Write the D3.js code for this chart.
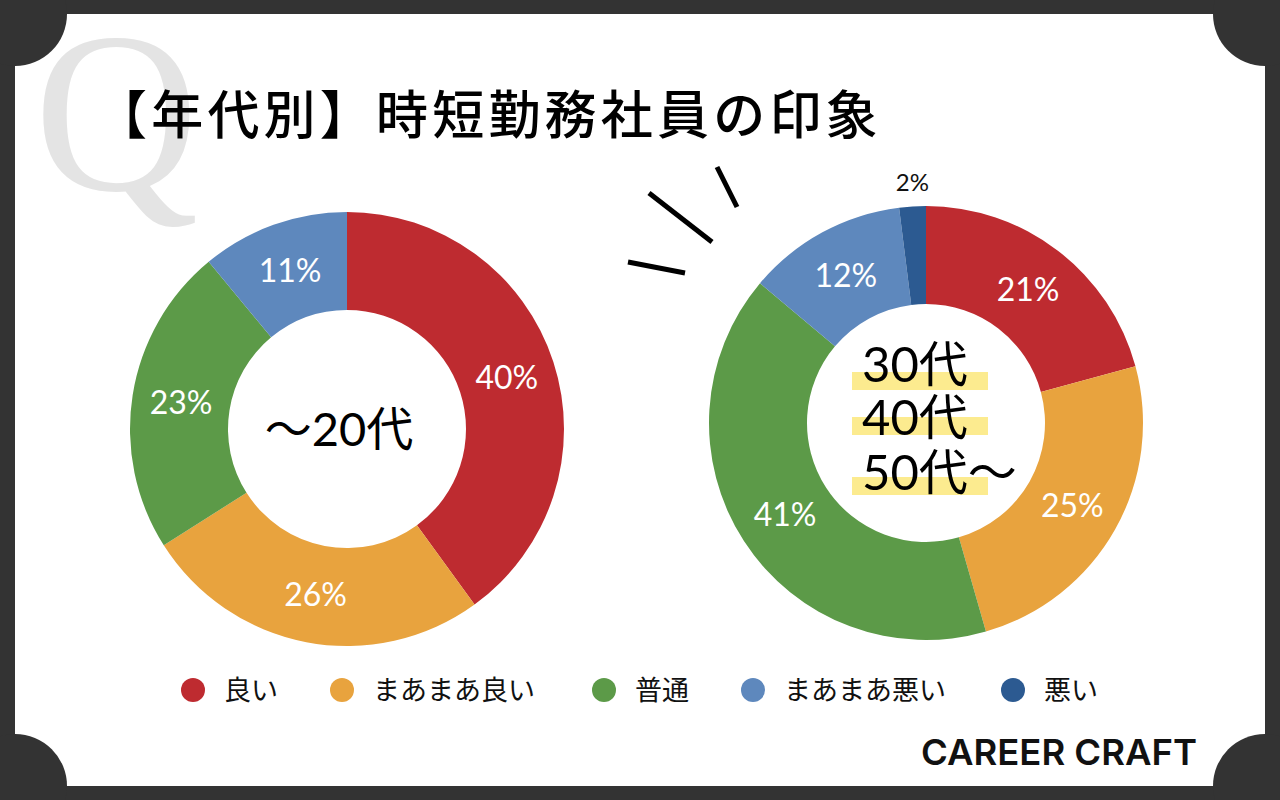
<!DOCTYPE html>
<html><head><meta charset="utf-8">
<script src="https://cdn.jsdelivr.net/npm/d3@7"></script>
<style>html,body{margin:0;padding:0;background:#333;}svg{display:block;}</style>
</head><body>
<svg id="c" width="1280" height="800"></svg>
<script>
const categories = ["良い","まあまあ良い","普通","まあまあ悪い","悪い"];
const colors = ["#BE2B30","#E8A33E","#5C9A48","#5E88BD","#2C5A91"];
const values20s = [40,26,23,11,0];
const values30s = [21,25,41,12,2];
const title = "【年代別】時短勤務社員の印象";
const leftCenter = ["～20代"];
const rightCenter = ["30代","40代","50代～"];

const svg = d3.select("#c");
const F = "'Noto Sans CJK JP','Noto Sans',sans-serif";
const FN = "Lato,'Noto Sans CJK JP',sans-serif";

// card
svg.append("rect").attr("width",1280).attr("height",800).attr("fill","#333");
svg.append("rect").attr("x",15).attr("y",14).attr("width",1250).attr("height",772).attr("fill","#fff");

// Q watermark
svg.append("text").attr("x",34).attr("y",190).attr("font-family","'Liberation Serif','DejaVu Serif',serif")
  .attr("font-size",228).attr("fill","#e4e4e4").text("Q");

[[15,14],[1265,14],[15,786],[1265,786]].forEach(p=>{
  svg.append("circle").attr("cx",p[0]).attr("cy",p[1]).attr("r",52).attr("fill","#333");
});

// title
svg.append("text").attr("x",95).attr("y",134).attr("font-family",F).attr("font-weight",500)
  .attr("font-size",52).attr("letter-spacing",4.2).attr("fill","#000").text(title);

// sparkle lines
const sp=[[628,262,685,273],[649,193,712,242],[717,167,737,207]];
svg.selectAll("line.sp").data(sp).join("line").attr("x1",d=>d[0]).attr("y1",d=>d[1]).attr("x2",d=>d[2]).attr("y2",d=>d[3])
  .attr("stroke","#000").attr("stroke-width",5);

const pie = d3.pie().sort(null).value(d=>d.v);
const arc = d3.arc().innerRadius(119).outerRadius(217);
const labelArc = d3.arc().innerRadius(168).outerRadius(168);

function donut(cx,cy,vals){
  const data = vals.map((v,i)=>({v,c:colors[i],i}));
  const g = svg.append("g").attr("transform",`translate(${cx},${cy})`);
  const arcs = pie(data);
  g.selectAll("path").data(arcs).join("path").attr("d",arc).attr("fill",d=>d.data.c);
  arcs.forEach(a=>{
    if(a.data.v<=0) return;
    if(a.data.v<5){
      const ang=(a.startAngle+a.endAngle)/2;
      g.append("text").attr("x",Math.sin(ang)*236+1).attr("y",-Math.cos(ang)*236+4)
        .attr("text-anchor","middle").attr("font-family",FN).attr("font-size",24).attr("fill","#111").text(a.data.v+"%");
    } else {
      const c=labelArc.centroid(a);
      g.append("text").attr("x",c[0]).attr("y",c[1]).attr("dy","0.36em").attr("text-anchor","middle")
        .attr("font-family",FN).attr("font-weight",400).attr("font-size",32).attr("fill","#fff").text(a.data.v+"%");
    }
  });
  return g;
}
const gL = donut(347,429,values20s);
const gR = donut(926,423,values30s);

gL.append("text").attr("x",-8).attr("y",17).attr("text-anchor","middle").attr("font-family",FN)
  .attr("font-size",47).attr("fill","#000").text(leftCenter[0]);

const bars=[372,417,477];
const base=[382,435,490];
rightCenter.forEach((t,i)=>{
  svg.append("rect").attr("x",852).attr("y",bars[i]).attr("width",136).attr("height",18).attr("fill","#FCEB8F");
});
rightCenter.forEach((t,i)=>{
  svg.append("text").attr("x",862).attr("y",base[i]).attr("font-family",FN).attr("font-size",49).attr("fill","#000").text(t);
});

// legend
const lx=[193,342,604,753,1013];
categories.forEach((c,i)=>{
  svg.append("circle").attr("cx",lx[i]).attr("cy",690).attr("r",12).attr("fill",colors[i]);
  svg.append("text").attr("x",lx[i]+31).attr("y",700).attr("font-family",F).attr("font-size",27).attr("fill","#111").text(c);
});

// logo
svg.append("text").attr("x",921).attr("y",765).attr("font-family","Inter,'DejaVu Sans',sans-serif").attr("font-weight",600)
  .attr("font-size",36).attr("fill","#111").text("CAREER CRAFT")
  .attr("textLength",276).attr("lengthAdjust","spacingAndGlyphs");
</script>
</body></html>
